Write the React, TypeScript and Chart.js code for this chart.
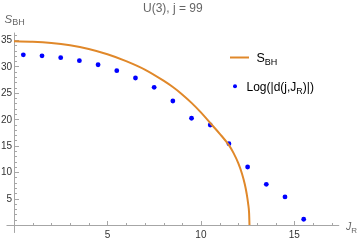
import { useEffect, useRef } from "react";
import { Chart, registerables } from "chart.js";

Chart.register(...registerables);

// S_BH curve
const curveX = [0, 1, 2, 3, 4, 5, 6, 7, 8, 8.5, 9, 9.5, 10, 10.5, 11, 11.5, 11.75, 12, 12.2, 12.35, 12.45, 12.53, 12.58, 12.6];
const curveY = [34.75, 34.68, 34.45, 34.0, 33.3, 32.3, 31.0, 29.4, 27.3, 26.1, 24.7, 23.1, 21.3, 19.3, 17.3, 15.1, 13.6, 11.7, 9.7, 7.7, 5.9, 4.0, 2.2, 0];

// Log(|d(j,J_R)|) points
const pointX = [0.5, 1.5, 2.5, 3.5, 4.5, 5.5, 6.5, 7.5, 8.5, 9.5, 10.5, 11.5, 12.5, 13.5, 14.5, 15.5];
const pointY = [32.2, 32.0, 31.65, 31.08, 30.32, 29.19, 27.81, 26.05, 23.46, 20.19, 18.92, 15.38, 10.97, 7.7, 5.3, 1.08];

// ticks
const xTickValues = [5, 10, 15];
const xTickLabels = ["5", "10", "15"];
const yTickValues = [5, 10, 15, 20, 25, 30, 35];
const yTickLabels = ["5", "10", "15", "20", "25", "30", "35"];
const xMinorTicks = [1, 2, 3, 4, 6, 7, 8, 9, 11, 12, 13, 14, 16, 17];
const yMinorTicks = [1, 2, 3, 4, 6, 7, 8, 9, 11, 12, 13, 14, 16, 17, 18, 19, 21, 22, 23, 24, 26, 27, 28, 29, 31, 32, 33, 34, 36];

const titleText = "U(3), j = 99";

const ORANGE = "#e0882a";
const BLUE = "#0000ff";
const AXIS = "#a6a6a6";
const FONT = '"Liberation Sans", Arial, sans-serif';

function subText(ctx: CanvasRenderingContext2D, parts: [string, string, number][], x: number, y: number) {
  let cx = x;
  for (const [t, f, dy] of parts) {
    ctx.font = f;
    ctx.fillText(t, cx, y + dy);
    cx += ctx.measureText(t).width;
  }
}

const mmaPlugin = {
  id: "mmaAxes",
  beforeDatasetsDraw(chart: any) {
    const { ctx, chartArea: a, scales } = chart;
    const xs = scales.x, ys = scales.y;
    const x0 = Math.round(xs.getPixelForValue(0)) + 0.5;
    const y0 = Math.round(ys.getPixelForValue(0)) + 0.5;
    ctx.save();
    ctx.strokeStyle = AXIS;
    ctx.lineWidth = 1;
    ctx.beginPath();
    ctx.moveTo(a.left, y0);
    ctx.lineTo(a.right, y0);
    ctx.moveTo(x0, a.top);
    ctx.lineTo(x0, a.bottom);
    for (const v of xMinorTicks) {
      const px = Math.round(xs.getPixelForValue(v)) + 0.5;
      ctx.moveTo(px, y0);
      ctx.lineTo(px, y0 - 2.5);
    }
    for (const v of xTickValues) {
      const px = Math.round(xs.getPixelForValue(v)) + 0.5;
      ctx.moveTo(px, y0);
      ctx.lineTo(px, y0 - 4.5);
    }
    for (const v of yMinorTicks) {
      const py = Math.round(ys.getPixelForValue(v)) + 0.5;
      ctx.moveTo(x0, py);
      ctx.lineTo(x0 + 2.5, py);
    }
    for (const v of yTickValues) {
      const py = Math.round(ys.getPixelForValue(v)) + 0.5;
      ctx.moveTo(x0, py);
      ctx.lineTo(x0 + 4.5, py);
    }
    ctx.stroke();

    ctx.fillStyle = "#333";
    ctx.font = `10px ${FONT}`;
    ctx.textAlign = "center";
    ctx.textBaseline = "middle";
    xTickValues.forEach((v, i) => {
      ctx.fillText(xTickLabels[i], xs.getPixelForValue(v), y0 + 10);
    });
    ctx.textAlign = "right";
    yTickValues.forEach((v, i) => {
      ctx.fillText(yTickLabels[i], x0 - 2.5, ys.getPixelForValue(v) + 0.5);
    });
    ctx.restore();
  },
  afterDraw(chart: any) {
    const { ctx, chartArea: a } = chart;
    ctx.save();
    ctx.fillStyle = "#666";
    ctx.font = `12px ${FONT}`;
    ctx.textAlign = "center";
    ctx.textBaseline = "alphabetic";
    ctx.fillText(titleText, (a.left + a.right) / 2, 12);

    ctx.textAlign = "left";
    ctx.fillStyle = "#666";
    subText(ctx, [["S", `italic 11.5px ${FONT}`, 0], ["BH", `9px ${FONT}`, 2]], 4.5, 23.3);
    subText(ctx, [["J", `italic 10.5px ${FONT}`, 0], ["R", `8px ${FONT}`, 3]], 346, 229.5);

    ctx.strokeStyle = ORANGE;
    ctx.lineWidth = 2;
    ctx.beginPath();
    ctx.moveTo(230, 57.5);
    ctx.lineTo(249, 57.5);
    ctx.stroke();
    ctx.fillStyle = "#000";
    subText(ctx, [["S", `12.5px ${FONT}`, 0], ["BH", `9px ${FONT}`, 3]], 256.5, 62);

    ctx.fillStyle = BLUE;
    ctx.beginPath();
    ctx.arc(235, 86.3, 2, 0, Math.PI * 2);
    ctx.fill();
    ctx.fillStyle = "#000";
    subText(ctx, [["Log(|d(j,J", `12px ${FONT}`, 0], ["R", `9px ${FONT}`, 2.5], [")|)", `12px ${FONT}`, 0]], 246.5, 91);
    ctx.restore();
  },
};

export default function App() {
  const ref = useRef<HTMLCanvasElement>(null);
  useEffect(() => {
    if (!ref.current) return;
    const chart = new Chart(ref.current, {
      type: "scatter",
      data: {
        datasets: [
          {
            label: "S_BH",
            data: curveX.map((x, i) => ({ x, y: curveY[i] })),
            showLine: true,
            borderColor: ORANGE,
            borderWidth: 2,
            pointRadius: 0,
            cubicInterpolationMode: "monotone",
            fill: false,
          },
          {
            label: "Log(|d(j,J_R)|)",
            data: pointX.map((x, i) => ({ x, y: pointY[i] })),
            showLine: false,
            backgroundColor: BLUE,
            borderWidth: 0,
            pointRadius: 2.4,
          },
        ],
      },
      options: {
        responsive: false,
        animation: false,
        devicePixelRatio: 1,
        layout: { padding: { left: 6.5, right: 20.8, top: 32.6, bottom: 8.1 } },
        scales: {
          x: { type: "linear", min: -0.4, max: 17.4, display: false },
          y: { type: "linear", min: -1.5, max: 36.4, display: false },
        },
        plugins: {
          legend: { display: false },
          tooltip: { enabled: false },
          title: { display: false },
        },
      },
      plugins: [mmaPlugin],
    } as any);
    return () => chart.destroy();
  }, []);
  return (
    <div style={{ position: "fixed", left: 0, top: 0, width: 360, height: 241, background: "#fff" }}>
      <canvas ref={ref} width={360} height={241} style={{ display: "block" }} />
    </div>
  );
}
